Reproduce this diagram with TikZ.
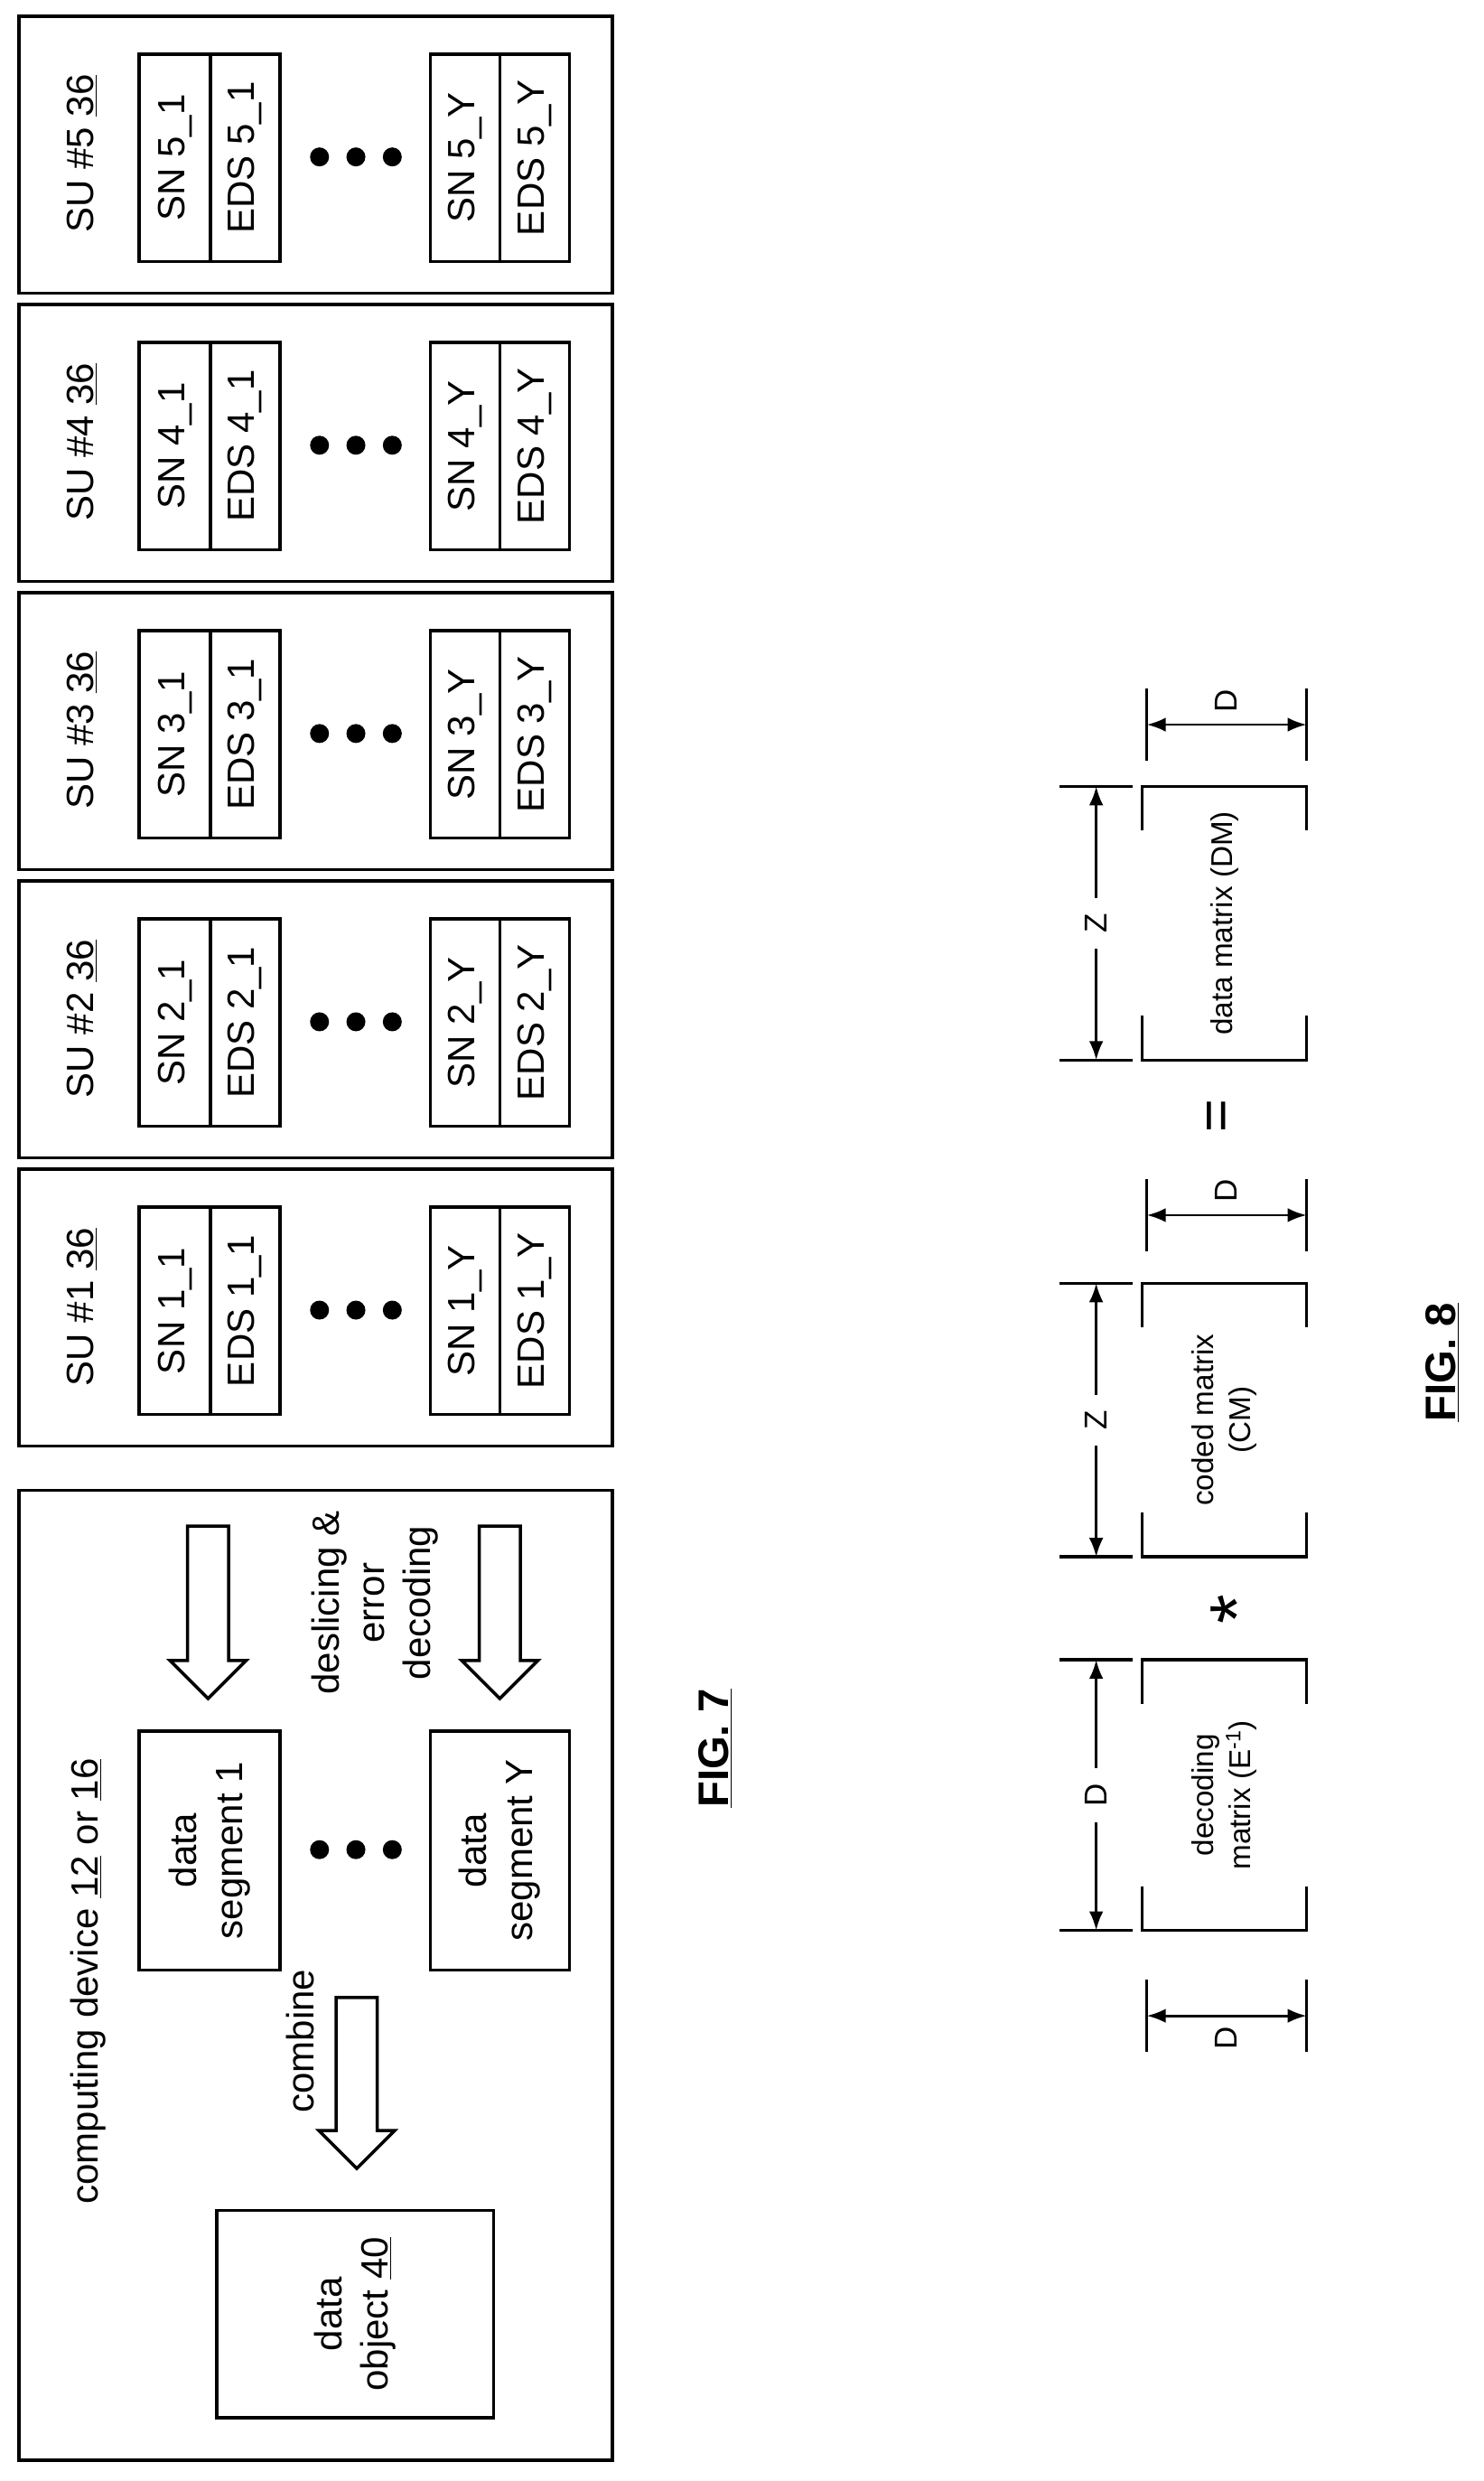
\documentclass[tikz,border=0pt]{standalone}
\usepackage{fontspec}
\setmainfont{Liberation Sans}
\usetikzlibrary{arrows.meta,shapes.arrows}
\begin{document}
\begin{tikzpicture}[x=1pt,y=1pt,line width=2pt,
  txt/.style={inner sep=0pt,font=\fontsize{24}{29}\selectfont,align=center},
  small/.style={inner sep=0pt,font=\fontsize{19}{23}\selectfont,align=center},
  dim/.style={inner sep=0pt,font=\fontsize{20}{24}\selectfont},
  fig/.style={inner sep=0pt,font=\fontsize{27}{32}\selectfont\bfseries},
  box/.style={draw,inner sep=0pt},
  dot/.style={circle,fill,inner sep=0pt,minimum size=12pt},
  hollow/.style={draw,single arrow,shape border rotate=180,minimum height=109pt,inner xsep=0pt,inner ysep=12pt,single arrow head extend=11pt,single arrow head indent=0pt,line width=2pt},
  darr/.style={{Latex[length=12pt,width=9pt]}-{Latex[length=12pt,width=9pt]},line width=1.6pt},
  tick/.style={line width=2pt}]
\useasboundingbox (0,0) rectangle (938,1568);
\begin{scope}[rotate=90,transform shape]
% computing device
\node[box,minimum width=613pt,minimum height=375pt] (cd) at (319.5,-199.5) {};
\node[txt,anchor=west] (cdl) at (174,-56) {computing device \underline{12} or \underline{16}};
\node[box,minimum width=151pt,minimum height=89pt,txt] (ds1) at (398.5,-132.5) {data\\segment 1};
\node[box,minimum width=151pt,minimum height=88pt,txt] (dsy) at (398.5,-316) {data\\segment Y};
\node[dot] (cdd1) at (399,-202) {};
\node[dot] (cdd2) at (399,-225) {};
\node[dot] (cdd3) at (399,-248) {};
\node[box,minimum width=131pt,minimum height=175pt,txt] (obj) at (105.5,-224.5) {data\\object \underline{40}};
\node[hollow] (a1) at (555.5,-131.5) {};
\node[hollow] (a2) at (555.5,-316) {};
\node[txt] (dl) at (555,-237) {deslicing \&\\error\\decoding};
\node[hollow,minimum height=108pt] (ac) at (258,-225.5) {};
\node[txt] (cl) at (278,-190) {combine};
\node[fig] (f7) at (463,-452) {\underline{FIG. 7}};
% storage units
\foreach \k in {1,...,5}{
  \pgfmathsetmacro\uo{654+182.2*(\k-1)}
  \node[box,minimum width=175pt,minimum height=375pt] (su\k) at (\uo+87.5,-199.5) {};
  \node[txt] (sul\k) at (\uo+88,-52) {SU \#\k{} \underline{36}};
  \node[box,minimum width=131pt,minimum height=45pt,txt] (sna\k) at (\uo+85.5,-110.5) {SN \k\_1};
  \node[box,minimum width=131pt,minimum height=44pt,txt] (eda\k) at (\uo+85.5,-155) {EDS \k\_1};
  \node[box,minimum width=131pt,minimum height=44pt,txt] (sny\k) at (\uo+85.5,-294) {SN \k\_Y};
  \node[box,minimum width=131pt,minimum height=44pt,txt] (edy\k) at (\uo+85.5,-338) {EDS \k\_Y};
  \node[dot] (sd\k a) at (\uo+86,-202) {};
  \node[dot] (sd\k b) at (\uo+86,-225) {};
  \node[dot] (sd\k c) at (\uo+86,-248) {};
}
% FIG 8 matrices
\foreach \n/\ul/\ur in {dec/348/519,cod/584/757,dat/898/1071}{
  \draw[tick] (\ul+28,-722) -- (\ul,-722) -- (\ul,-826) -- (\ul+28,-826);
  \draw[tick] (\ur-28,-722) -- (\ur,-722) -- (\ur,-826) -- (\ur-28,-826);
  \coordinate (\n L) at (\ul,-693);
  \coordinate (\n R) at (\ur,-693);
  \draw[tick] (\ul,-670) -- (\ul,-716);
  \draw[tick] (\ur,-670) -- (\ur,-716);
  \draw[darr] (\n L) -- (\n R);
}
\node[small] (mdec) at (433.5,-774) {decoding\\matrix (E\textsuperscript{-1})};
\node[small] (mcod) at (670.5,-774) {coded matrix\\(CM)};
\node[small] (mdat) at (984.5,-774) {data matrix (DM)};
\node[dim,fill=white,inner xsep=10pt,inner ysep=4pt] (ldec) at (433.5,-693) {D};
\node[dim,fill=white,inner xsep=10pt,inner ysep=4pt] (lcod) at (670.5,-693) {Z};
\node[dim,fill=white,inner xsep=10pt,inner ysep=4pt] (ldat) at (984.5,-693) {Z};
\node[inner sep=0pt,font=\fontsize{48}{48}\selectfont] (star) at (551,-782) {*};
\node[inner sep=0pt,font=\fontsize{36}{36}\selectfont] (eq) at (863,-772) {=};
% vertical D dimensions
\foreach \n/\u in {d1/294,d2/800,d3/1110}{
  \coordinate (\n T) at (\u,-725);
  \coordinate (\n B) at (\u,-826);
  \draw[tick] (\u-23,-725) -- (\u+23,-725);
  \draw[tick] (\u-23,-826) -- (\u+23,-826);
  \draw[darr] (\n T) -- (\n B);
}
\node[dim,anchor=east] (ld1) at (288,-775) {D};
\node[dim,anchor=west] (ld2) at (807,-775) {D};
\node[dim,anchor=west] (ld3) at (1117,-775) {D};
\node[fig] (f8) at (707,-912) {\underline{FIG. 8}};
\end{scope}
\end{tikzpicture}
\end{document}
